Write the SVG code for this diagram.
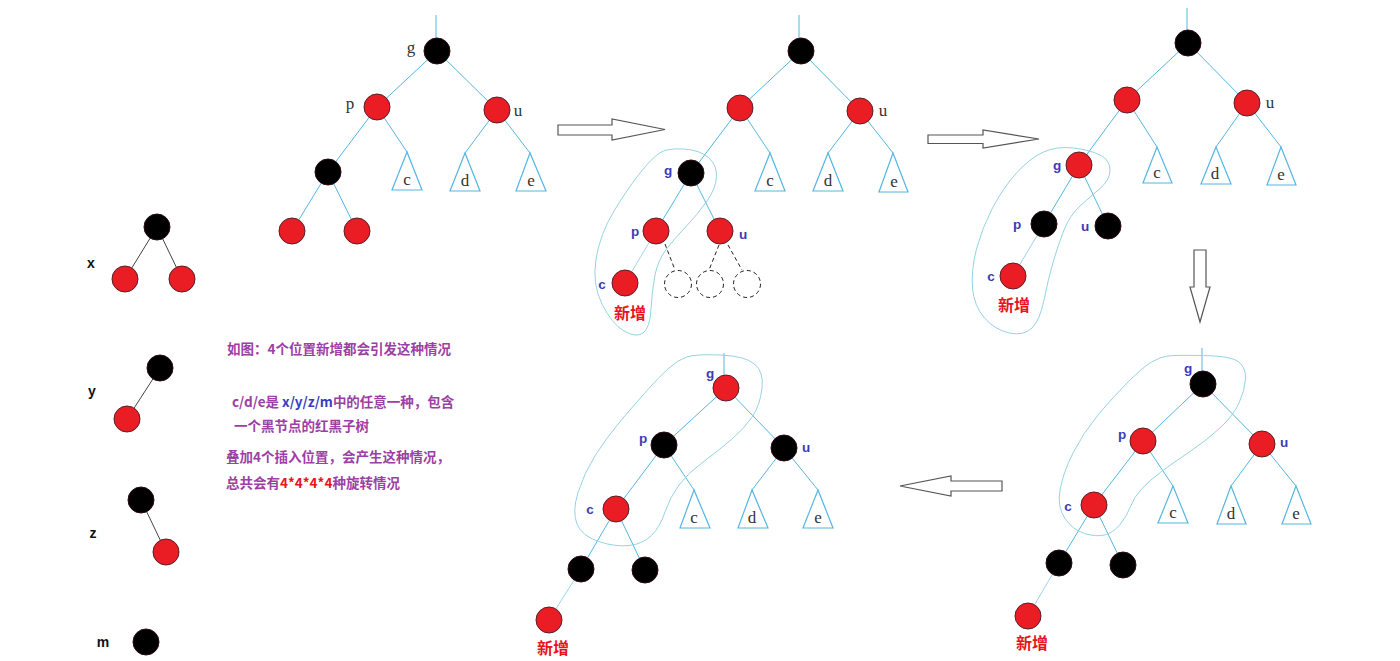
<svg xmlns="http://www.w3.org/2000/svg" width="1400" height="661" viewBox="0 0 1400 661">
<style>
.e{stroke:#55b6e2;stroke-width:1;fill:none}
.ef{stroke:#9fd3ec;stroke-width:1;fill:none}
.k{stroke:#444;stroke-width:1;fill:none}
.d{stroke:#222;stroke-width:1;fill:none;stroke-dasharray:4,3}
.loop{stroke:#95d3e4;stroke-width:1;fill:none}
.r{fill:#ea1d25;stroke:#5a1e2a;stroke-width:1}
.b{fill:#000;stroke:#2a0a10;stroke-width:1}
.dc{fill:#fff;stroke:#222;stroke-width:1;stroke-dasharray:4,3}
.tri{fill:#fff;stroke:#55b6e2;stroke-width:1.2}
.s{font-family:"Liberation Serif","DejaVu Serif",serif;font-size:17px;fill:#333}
.bl{font-family:"Liberation Sans","DejaVu Sans",sans-serif;font-size:13.5px;font-weight:bold;fill:#3b3bb6}
.nw{font-family:"Noto Sans CJK SC",sans-serif;font-size:16px;font-weight:bold;fill:#e8141c}
.lc{font-family:"Liberation Sans","DejaVu Sans",sans-serif;font-size:14px;font-weight:bold;fill:#111}
.tx{font-family:"Noto Sans CJK SC",sans-serif;font-size:13.5px;font-weight:bold;fill:#9c3fa5}
.arr{fill:#fff;stroke:#555;stroke-width:1.2}
</style>

<!-- connectors -->
<g id="connectors">
  <!-- tree 1 -->
  <line class="e" x1="436" y1="15" x2="436" y2="38"/>
  <line class="e" x1="437" y1="51" x2="377" y2="107"/>
  <line class="e" x1="437" y1="51" x2="497" y2="110"/>
  <line class="e" x1="377" y1="107" x2="328" y2="172"/>
  <line class="e" x1="377" y1="107" x2="407" y2="152"/>
  <line class="e" x1="497" y1="110" x2="465" y2="153"/>
  <line class="e" x1="497" y1="110" x2="530" y2="153"/>
  <line class="e" x1="328" y1="172" x2="292" y2="231"/>
  <line class="e" x1="328" y1="172" x2="357" y2="231"/>
  <!-- tree 2 -->
  <line class="e" x1="799" y1="15" x2="799" y2="38"/>
  <line class="e" x1="801" y1="51" x2="740" y2="108"/>
  <line class="e" x1="801" y1="51" x2="860" y2="111"/>
  <line class="e" x1="740" y1="108" x2="691" y2="173"/>
  <line class="e" x1="740" y1="108" x2="770" y2="153"/>
  <line class="e" x1="860" y1="111" x2="828" y2="153"/>
  <line class="e" x1="860" y1="111" x2="893" y2="153"/>
  <line class="e" x1="691" y1="173" x2="656" y2="231"/>
  <line class="e" x1="691" y1="173" x2="720" y2="231"/>
  <line class="ef" x1="656" y1="231" x2="625" y2="283"/>
  <line class="d" x1="665" y1="244" x2="675" y2="270"/>
  <line class="d" x1="719" y1="245" x2="709" y2="270"/>
  <line class="d" x1="728" y1="245" x2="742" y2="270"/>
  <!-- tree 3 -->
  <line class="e" x1="1187" y1="8" x2="1187" y2="30"/>
  <line class="e" x1="1188" y1="43" x2="1127" y2="100"/>
  <line class="e" x1="1188" y1="43" x2="1247" y2="103"/>
  <line class="e" x1="1127" y1="100" x2="1079" y2="165"/>
  <line class="e" x1="1127" y1="100" x2="1157" y2="147"/>
  <line class="e" x1="1247" y1="103" x2="1216" y2="147"/>
  <line class="e" x1="1247" y1="103" x2="1281" y2="147"/>
  <line class="e" x1="1079" y1="165" x2="1044" y2="224"/>
  <line class="e" x1="1079" y1="165" x2="1108" y2="226"/>
  <line class="ef" x1="1044" y1="224" x2="1013" y2="276"/>
  <!-- bottom middle tree -->
  <line class="e" x1="724" y1="353" x2="724" y2="376"/>
  <line class="e" x1="726" y1="388" x2="664" y2="445"/>
  <line class="e" x1="726" y1="388" x2="784" y2="448"/>
  <line class="e" x1="664" y1="445" x2="616" y2="509"/>
  <line class="e" x1="664" y1="445" x2="694" y2="490"/>
  <line class="e" x1="784" y1="448" x2="752" y2="490"/>
  <line class="e" x1="784" y1="448" x2="818" y2="490"/>
  <line class="e" x1="616" y1="509" x2="581" y2="569"/>
  <line class="e" x1="616" y1="509" x2="645" y2="570"/>
  <line class="ef" x1="581" y1="569" x2="549" y2="620"/>
  <!-- bottom right tree -->
  <line class="e" x1="1202" y1="348" x2="1202" y2="371"/>
  <line class="e" x1="1203" y1="384" x2="1143" y2="441"/>
  <line class="e" x1="1203" y1="384" x2="1262" y2="444"/>
  <line class="e" x1="1143" y1="441" x2="1094" y2="505"/>
  <line class="e" x1="1143" y1="441" x2="1173" y2="486"/>
  <line class="e" x1="1262" y1="444" x2="1231" y2="486"/>
  <line class="e" x1="1262" y1="444" x2="1296" y2="486"/>
  <line class="e" x1="1094" y1="505" x2="1059" y2="563"/>
  <line class="e" x1="1094" y1="505" x2="1123" y2="565"/>
  <line class="ef" x1="1059" y1="563" x2="1028" y2="616"/>
  <!-- left column -->
  <line class="k" x1="157" y1="227" x2="125" y2="279"/>
  <line class="k" x1="157" y1="227" x2="182" y2="279"/>
  <line class="k" x1="160" y1="368" x2="127" y2="419"/>
  <line class="k" x1="141" y1="500" x2="166" y2="552"/>
</g>

<!-- loops -->
<g id="loops">
  <path class="loop" d="M659.5,153 Q667,148 683.5,149 Q700,150 708.5,157.5 Q717,165 716.5,176.5 Q716,188 707,201 Q698,214 686.5,226 Q675,238 666.5,249 Q658,260 655,275 Q652,290 651,309 Q650,328 643,333 Q636,338 624,331 Q612,324 602,304 Q592,284 596,259 Q600,234 614,211 Q628,188 640,173 Q652,158 659.5,153 Z"/>
  <path class="loop" d="M1043.5,152 Q1057,146 1073.5,148 Q1090,150 1100,155 Q1110,160 1110,170 Q1110,180 1100,188.5 Q1090,197 1080,206 Q1070,215 1064,230 Q1058,245 1053,262.5 Q1048,280 1044,300 Q1040,320 1032,328 Q1024,336 1009.5,333 Q995,330 984.5,318 Q974,306 972.5,288 Q971,270 976.5,249 Q982,228 992.5,208 Q1003,188 1016.5,173 Q1030,158 1043.5,152 Z"/>
  <path class="loop" d="M686.5,357 Q695,354 720,355 Q745,356 754.5,364 Q764,372 762,388.5 Q760,405 752.5,416.5 Q745,428 731.5,439.5 Q718,451 703,462 Q688,473 679,485 Q670,497 665,512 Q660,527 651.5,535.5 Q643,544 629,545.5 Q615,547 598.5,541.5 Q582,536 577,524 Q572,512 578,492.5 Q584,473 595.5,455 Q607,437 620.5,421 Q634,405 647,390.5 Q660,376 669,368 Q678,360 686.5,357 Z"/>
  <path class="loop" d="M1167.5,356 Q1175,355 1203.5,355.5 Q1232,356 1239,362 Q1246,368 1245.5,379 Q1245,390 1239,403 Q1233,416 1220,428 Q1207,440 1190,451.5 Q1173,463 1161.5,471.5 Q1150,480 1142,488.5 Q1134,497 1130.5,506.5 Q1127,516 1120,524.5 Q1113,533 1104.5,535 Q1096,537 1084.5,533.5 Q1073,530 1065,518.5 Q1057,507 1060,490 Q1063,473 1073,453 Q1083,433 1098,415 Q1113,397 1128,382 Q1143,367 1151.5,362 Q1160,357 1167.5,356 Z"/>
</g>

<!-- arrows -->
<g id="arrows">
  <polygon class="arr" points="558,125 612,125 612,119 665,129.5 612,140 612,135 558,135"/>
  <polygon class="arr" points="928,135 983,135 983,130 1039,139 983,148 983,143.5 928,143.5"/>
  <polygon class="arr" points="1194,250 1206,250 1206,287 1210,287 1200,322 1190,287 1194,287"/>
  <polygon class="arr" points="1002,481 951,481 951,476 900,486 951,496 951,491 1002,491"/>
</g>

<!-- tree 1 -->
<g id="t1">
  <g id="t1-g"><circle class="b" cx="437" cy="51" r="13"/><text class="s" x="411" y="53" text-anchor="middle">g</text></g>
  <g id="t1-p"><circle class="r" cx="377" cy="107" r="13"/><text class="s" x="350" y="109" text-anchor="middle">p</text></g>
  <g id="t1-u"><circle class="r" cx="497" cy="110" r="13"/><text class="s" x="518" y="116" text-anchor="middle">u</text></g>
  <g id="t1-n"><circle class="b" cx="328" cy="172" r="13"/></g>
  <g id="t1-n1"><circle class="r" cx="292" cy="231" r="13"/></g>
  <g id="t1-n2"><circle class="r" cx="357" cy="231" r="13"/></g>
  <g id="t1-c"><polygon class="tri" points="407,152 392,190 422,190"/><text class="s" x="407" y="185" text-anchor="middle">c</text></g>
  <g id="t1-d"><polygon class="tri" points="465,153 450,191 480,191"/><text class="s" x="465" y="186" text-anchor="middle">d</text></g>
  <g id="t1-e"><polygon class="tri" points="530,153 516,191 546,191"/><text class="s" x="531" y="186" text-anchor="middle">e</text></g>
</g>

<!-- tree 2 -->
<g id="t2">
  <g id="t2-root"><circle class="b" cx="801" cy="51" r="13"/></g>
  <g id="t2-l"><circle class="r" cx="740" cy="108" r="13"/></g>
  <g id="t2-u0"><circle class="r" cx="860" cy="111" r="13"/><text class="s" x="883" y="116" text-anchor="middle">u</text></g>
  <g id="t2-c"><polygon class="tri" points="770,153 755,191 785,191"/><text class="s" x="770" y="186" text-anchor="middle">c</text></g>
  <g id="t2-d"><polygon class="tri" points="828,153 813,191 843,191"/><text class="s" x="828" y="186" text-anchor="middle">d</text></g>
  <g id="t2-e"><polygon class="tri" points="893,153 879,192 908,192"/><text class="s" x="894" y="187" text-anchor="middle">e</text></g>
  <g id="t2-g"><circle class="b" cx="691" cy="173" r="13"/><text class="bl" x="668" y="175" text-anchor="middle">g</text></g>
  <g id="t2-p"><circle class="r" cx="656" cy="231" r="13"/><text class="bl" x="635" y="236" text-anchor="middle">p</text></g>
  <g id="t2-u"><circle class="r" cx="720" cy="231" r="13"/><text class="bl" x="743" y="239" text-anchor="middle">u</text></g>
  <g id="t2-cn"><circle class="r" cx="625" cy="283" r="13"/><text class="bl" x="602" y="289" text-anchor="middle">c</text><text class="nw" x="630" y="319" text-anchor="middle">新增</text></g>
  <g id="t2-x1"><circle class="dc" cx="678" cy="284" r="13.5"/></g>
  <g id="t2-x2"><circle class="dc" cx="710" cy="284" r="13.5"/></g>
  <g id="t2-x3"><circle class="dc" cx="747" cy="284" r="13.5"/></g>
</g>

<!-- tree 3 -->
<g id="t3">
  <g id="t3-root"><circle class="b" cx="1188" cy="43" r="13"/></g>
  <g id="t3-l"><circle class="r" cx="1127" cy="100" r="13"/></g>
  <g id="t3-u0"><circle class="r" cx="1247" cy="103" r="13"/><text class="s" x="1270" y="108" text-anchor="middle">u</text></g>
  <g id="t3-c"><polygon class="tri" points="1157,147 1143,183 1172,183"/><text class="s" x="1157" y="178" text-anchor="middle">c</text></g>
  <g id="t3-d"><polygon class="tri" points="1216,147 1201,184 1231,184"/><text class="s" x="1215" y="179" text-anchor="middle">d</text></g>
  <g id="t3-e"><polygon class="tri" points="1281,147 1267,185 1296,185"/><text class="s" x="1281" y="180" text-anchor="middle">e</text></g>
  <g id="t3-g"><circle class="r" cx="1079" cy="165" r="13"/><text class="bl" x="1057" y="170" text-anchor="middle">g</text></g>
  <g id="t3-p"><circle class="b" cx="1044" cy="224" r="13"/><text class="bl" x="1017" y="229" text-anchor="middle">p</text></g>
  <g id="t3-u"><circle class="b" cx="1108" cy="226" r="13"/><text class="bl" x="1085" y="231" text-anchor="middle">u</text></g>
  <g id="t3-cn"><circle class="r" cx="1013" cy="276" r="13"/><text class="bl" x="991" y="281" text-anchor="middle">c</text><text class="nw" x="1014" y="311" text-anchor="middle">新增</text></g>
</g>

<!-- bottom middle tree -->
<g id="t4">
  <g id="t4-g"><circle class="r" cx="726" cy="388" r="13"/><text class="bl" x="710" y="378" text-anchor="middle">g</text></g>
  <g id="t4-p"><circle class="b" cx="664" cy="445" r="13"/><text class="bl" x="643" y="443" text-anchor="middle">p</text></g>
  <g id="t4-u"><circle class="b" cx="784" cy="448" r="13"/><text class="bl" x="806" y="452" text-anchor="middle">u</text></g>
  <g id="t4-c"><polygon class="tri" points="694,490 680,528 710,528"/><text class="s" x="694" y="523" text-anchor="middle">c</text></g>
  <g id="t4-d"><polygon class="tri" points="752,490 738,528 768,528"/><text class="s" x="752" y="523" text-anchor="middle">d</text></g>
  <g id="t4-e"><polygon class="tri" points="818,490 803,528 833,528"/><text class="s" x="818" y="523" text-anchor="middle">e</text></g>
  <g id="t4-cn"><circle class="r" cx="616" cy="509" r="13"/><text class="bl" x="590" y="514" text-anchor="middle">c</text></g>
  <g id="t4-b1"><circle class="b" cx="581" cy="569" r="13"/></g>
  <g id="t4-b2"><circle class="b" cx="645" cy="570" r="13"/></g>
  <g id="t4-new"><circle class="r" cx="549" cy="620" r="13"/><text class="nw" x="553" y="654" text-anchor="middle">新增</text></g>
</g>

<!-- bottom right tree -->
<g id="t5">
  <g id="t5-g"><circle class="b" cx="1203" cy="384" r="13"/><text class="bl" x="1188" y="373" text-anchor="middle">g</text></g>
  <g id="t5-p"><circle class="r" cx="1143" cy="441" r="13"/><text class="bl" x="1122" y="439" text-anchor="middle">p</text></g>
  <g id="t5-u"><circle class="r" cx="1262" cy="444" r="13"/><text class="bl" x="1284" y="447" text-anchor="middle">u</text></g>
  <g id="t5-c"><polygon class="tri" points="1173,486 1158,523 1188,523"/><text class="s" x="1173" y="518" text-anchor="middle">c</text></g>
  <g id="t5-d"><polygon class="tri" points="1231,486 1217,524 1246,524"/><text class="s" x="1231" y="519" text-anchor="middle">d</text></g>
  <g id="t5-e"><polygon class="tri" points="1296,486 1282,524 1311,524"/><text class="s" x="1296" y="519" text-anchor="middle">e</text></g>
  <g id="t5-cn"><circle class="r" cx="1094" cy="505" r="13"/><text class="bl" x="1068" y="511" text-anchor="middle">c</text></g>
  <g id="t5-b1"><circle class="b" cx="1059" cy="563" r="13"/></g>
  <g id="t5-b2"><circle class="b" cx="1123" cy="565" r="13"/></g>
  <g id="t5-new"><circle class="r" cx="1028" cy="616" r="13"/><text class="nw" x="1032" y="649" text-anchor="middle">新增</text></g>
</g>

<!-- left column -->
<g id="cases">
  <g id="case-x"><circle class="b" cx="157" cy="227" r="13"/><circle class="r" cx="125" cy="279" r="13"/><circle class="r" cx="182" cy="279" r="13"/><text class="lc" x="91" y="268" text-anchor="middle">x</text></g>
  <g id="case-y"><circle class="b" cx="160" cy="368" r="13"/><circle class="r" cx="127" cy="419" r="13"/><text class="lc" x="92" y="396" text-anchor="middle">y</text></g>
  <g id="case-z"><circle class="b" cx="141" cy="500" r="13"/><circle class="r" cx="166" cy="552" r="13"/><text class="lc" x="93" y="538" text-anchor="middle">z</text></g>
  <g id="case-m"><circle class="b" cx="146" cy="642" r="13"/><text class="lc" x="103" y="647" text-anchor="middle" font-size="12">m</text></g>
</g>

<!-- notes -->
<g id="notes">
  <text class="tx" x="227" y="354">如图：4个位置新增都会引发这种情况</text>
  <text class="tx" x="232" y="407">c/d/e是 <tspan fill="#3b3bc4">x/y/z/m</tspan>中的任意一种，包含</text>
  <text class="tx" x="234" y="431">一个黑节点的红黑子树</text>
  <text class="tx" x="226" y="462">叠加4个插入位置，会产生这种情况，</text>
  <text class="tx" x="226" y="488">总共会有<tspan fill="#e8141c">4*4*4*4</tspan>种旋转情况</text>
</g>
</svg>
